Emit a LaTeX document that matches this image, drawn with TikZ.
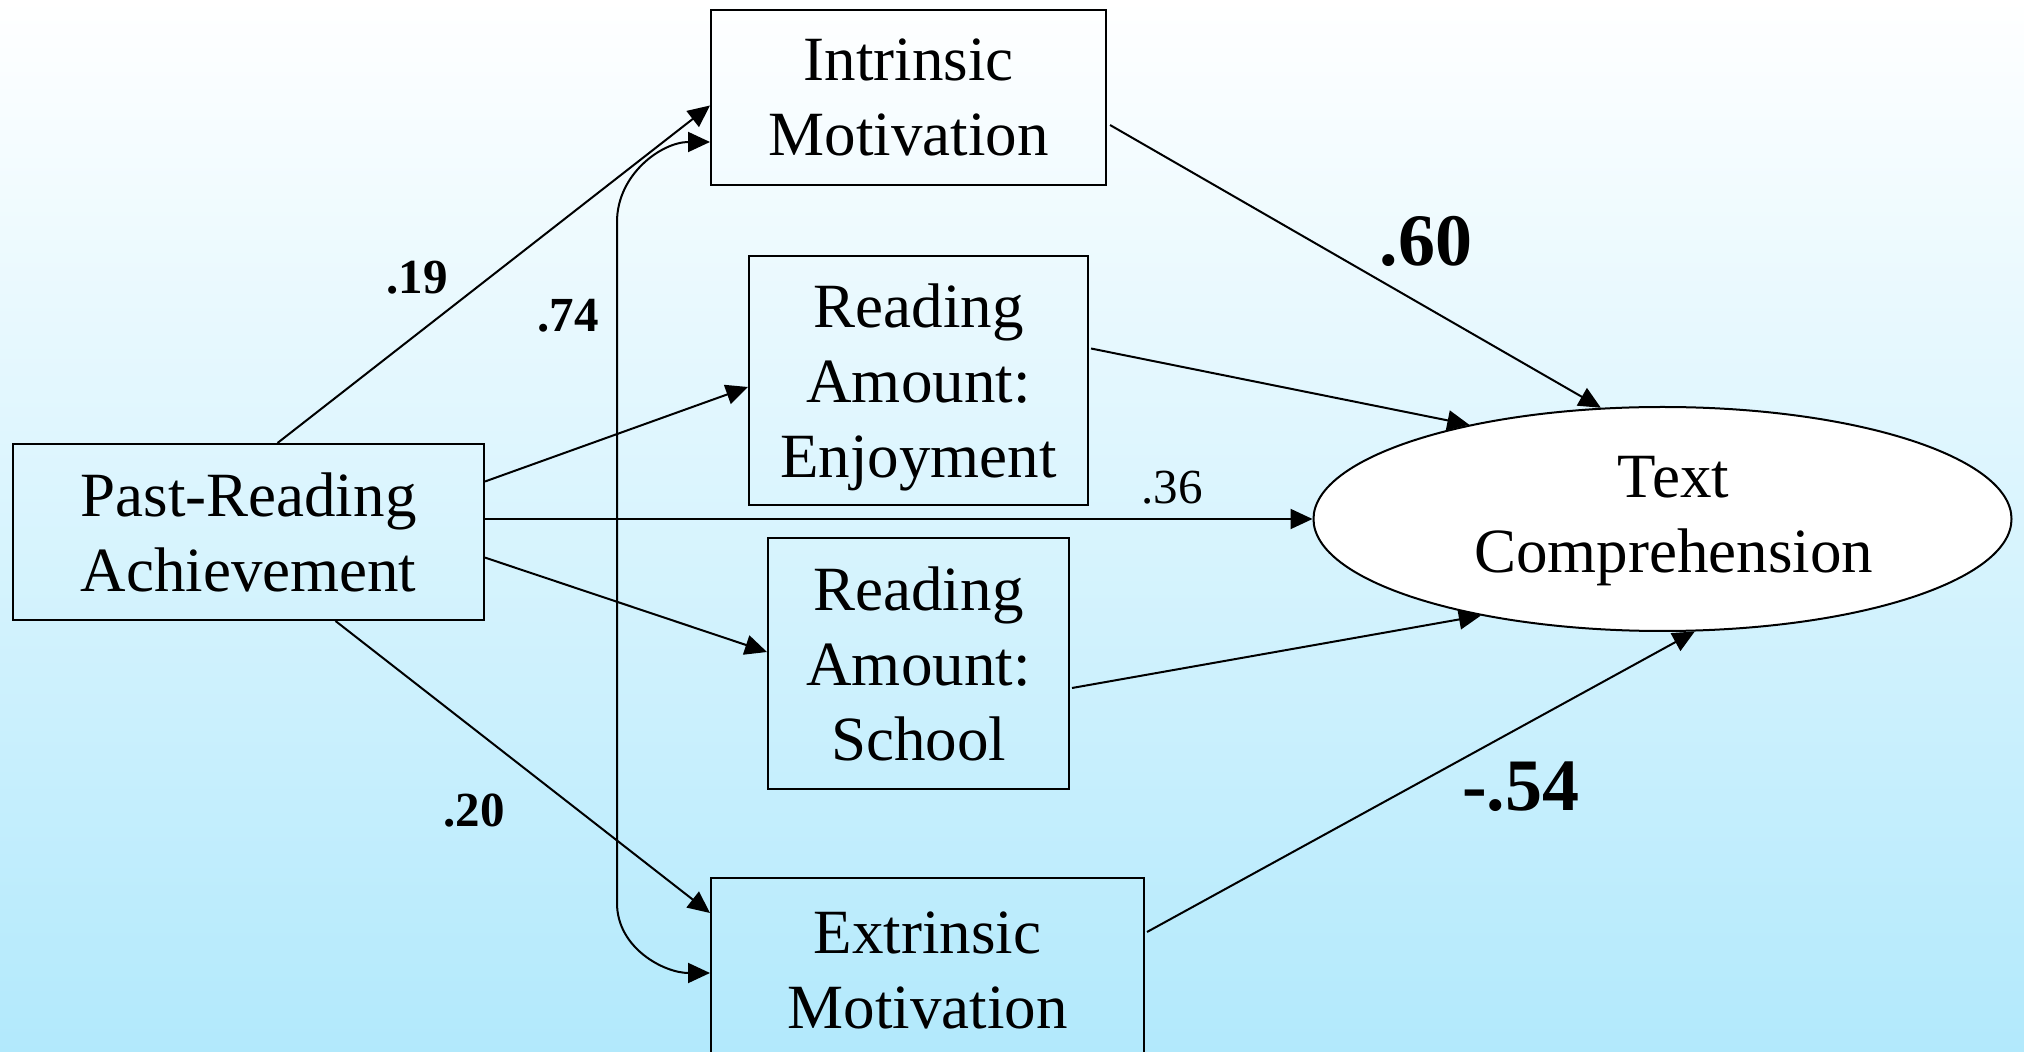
\documentclass[tikz,border=0pt]{standalone}
\usepackage{fontspec}
\setmainfont{Liberation Serif}
\usetikzlibrary{shapes.geometric,arrows.meta,calc}
\definecolor{bgbot}{RGB}{178,233,252}
\definecolor{bgmid}{RGB}{226,246,254}
\begin{document}
\begin{tikzpicture}[x=0.5pt,y=-0.5pt,
  >={Triangle[length=11pt,width=10pt]},
  txt/.style={inner sep=0pt,align=center,font={\fontsize{31.5pt}{37.5pt}\selectfont}},
  box/.style={txt,draw,line width=1pt},
  conn/.style={line width=1pt},
  lbl/.style={inner sep=0pt,font={\bfseries\fontsize{24.5pt}{24.5pt}\selectfont}},
  lblbig/.style={inner sep=0pt,font={\bfseries\fontsize{37pt}{37pt}\selectfont}},
  lblreg/.style={inner sep=0pt,font={\fontsize{24.5pt}{24.5pt}\selectfont}}]
\useasboundingbox (0,0) rectangle (2024,1052);
\clip (0,0) rectangle (2024,1052);
\shade[top color=white,middle color=bgmid,bottom color=bgbot] (0,0) rectangle (2024,1052);

\node[box,minimum width=235.5pt,minimum height=88pt] (past) at (248.5,532) {Past-Reading\\Achievement};
\node[box,minimum width=197.5pt,minimum height=87.5pt] (intr) at (908.5,97.5) {Intrinsic\\Motivation};
\node[box,minimum width=169.5pt,minimum height=124.5pt,text depth=0pt] (enjoy) at (918.5,380.5) {Reading\\Amount:\\Enjoyment};
\node[box,minimum width=150.5pt,minimum height=125.5pt] (school) at (918.5,663.5) {Reading\\Amount:\\School};
\node[box,minimum width=216.5pt,minimum height=92pt] (extr) at (927.5,970) {Extrinsic\\Motivation};
\node[draw,line width=1pt,ellipse,fill=white,inner sep=0pt,minimum width=349pt,minimum height=112pt] (tc) at (1662.5,519) {};
\node[txt] (tctext) at (1673.5,521.5) {Text\\Comprehension};

\draw[conn,->] ($(past.north)+(29,0)$) -- ($(intr.west)+(0,8)$);
\draw[conn,->] ($(past.east)+(0,-50.5)$) -- ($(enjoy.west)+(0,6.5)$);
\draw[conn,->] ($(past.east)+(0,-13)$) -- (tc.west);
\draw[conn,->] ($(past.east)+(0,25.6)$) -- ($(school.west)+(0,-11.5)$);
\draw[conn,->] ($(past.south)+(87,0)$) -- ($(extr.west)+(0,-57)$);
\draw[conn,->] ($(intr.east)+(3,27.5)$) -- (tc.119);
\draw[conn,->] ($(enjoy.east)+(2,-32)$) -- (tc.154);
\draw[conn,->] ($(school.east)+(2,24.5)$) -- (tc.208.5);
\draw[conn,->] ($(extr.east)+(2,-38)$) -- (tc.286);

\coordinate (cv1) at (617,222);
\coordinate (cv2) at (617,903);
\draw[conn,<->] ($(intr.west)+(0,44.5)$) to[out=180,in=90] (cv1) -- (cv2) to[out=-90,in=180] ($(extr.west)+(0,3)$);

\node[lbl] (l19) at (417,277.5) {.19};
\node[lbl] (l74) at (568,316) {.74};
\node[lblreg] (l36) at (1172,488) {.36};
\node[lbl] (l20) at (474,810.6) {.20};
\node[lblbig] (l60) at (1426,241) {.60};
\node[lblbig] (l54) at (1520.6,787) {-.54};
\end{tikzpicture}
\end{document}
